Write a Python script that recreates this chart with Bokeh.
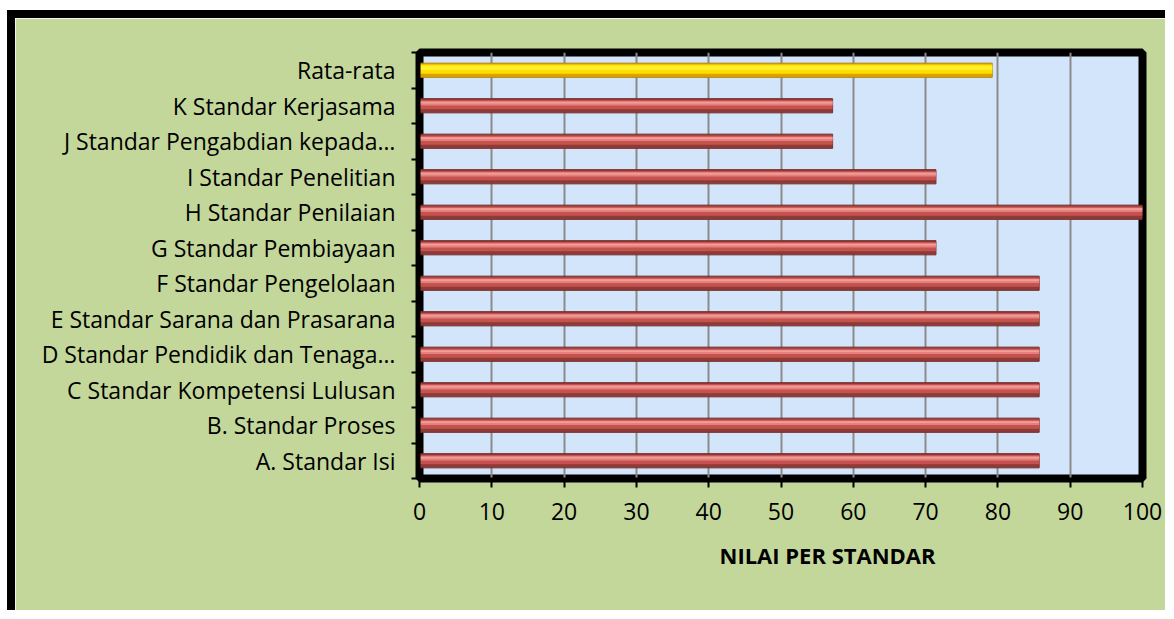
from bokeh.plotting import figure
from bokeh.models import FixedTicker, Title
from bokeh.embed import file_html
from bokeh.resources import INLINE

categories = [
    "A. Standar Isi",
    "B. Standar Proses",
    "C Standar Kompetensi Lulusan",
    "D Standar Pendidik dan Tenaga…",
    "E Standar Sarana dan Prasarana",
    "F Standar Pengelolaan",
    "G Standar Pembiayaan",
    "H Standar Penilaian",
    "I Standar Penelitian",
    "J Standar Pengabdian kepada…",
    "K Standar Kerjasama",
    "Rata-rata",
]
values = [85.71, 85.71, 85.71, 85.71, 85.71, 85.71, 71.43, 100.0, 71.43, 57.14, 57.14, 79.22]
x_ticks = [0, 10, 20, 30, 40, 50, 60, 70, 80, 90, 100]
x_title = "NILAI PER STANDAR"

n = len(categories)
ypos = [i + 0.5 for i in range(n)]
is_avg = [c == "Rata-rata" for c in categories]

FONT = "Open Sans"
GREEN = "#C4D79B"

p = figure(
    width=1158, height=600,
    x_range=(0, 100), y_range=(0, n),
    output_backend="svg", toolbar_location=None,
    min_border_left=404, min_border_right=31, min_border_top=34, min_border_bottom=140,
    styles={"border-left": "8px solid black", "border-top": "8px solid black",
            "margin-left": "7px", "margin-top": "10px"},
)
p.background_fill_color = "#D3E5FB"
p.border_fill_color = GREEN
p.outline_line_color = "black"
p.outline_line_width = 8

# grid
p.xgrid.ticker = FixedTicker(ticks=x_ticks)
p.xgrid.grid_line_color = "#8A8A8A"
p.xgrid.grid_line_width = 2
p.ygrid.grid_line_color = None

# bars (base + bevel layers)
red_y = [y for y, a in zip(ypos, is_avg) if not a]
red_v = [v for v, a in zip(values, is_avg) if not a]
yel_y = [y for y, a in zip(ypos, is_avg) if a]
yel_v = [v for v, a in zip(values, is_avg) if a]

H = 0.40
p.hbar(y=red_y, right=red_v, left=0, height=H, fill_color="#8E3A37", line_color="#7A2E2C", line_width=1)
p.hbar(y=[y + 0.03 for y in red_y], right=red_v, left=0, height=0.26, fill_color="#C4524F", line_color=None)
p.hbar(y=[y + 0.07 for y in red_y], right=red_v, left=0, height=0.12, fill_color="#E5807D", line_color=None)
p.hbar(y=[y + 0.09 for y in red_y], right=red_v, left=0, height=0.05, fill_color="#F19D9A", line_color=None)

p.hbar(y=yel_y, right=yel_v, left=0, height=H, fill_color="#D9A400", line_color="#B8860B", line_width=1)
p.hbar(y=[y + 0.03 for y in yel_y], right=yel_v, left=0, height=0.26, fill_color="#FFDD00", line_color=None)
p.hbar(y=[y + 0.07 for y in yel_y], right=yel_v, left=0, height=0.12, fill_color="#FFF02A", line_color=None)

# x axis
xa = p.xaxis[0]
xa.ticker = FixedTicker(ticks=x_ticks)
xa.axis_line_color = "black"
xa.axis_line_width = 2
xa.major_tick_out = 9
xa.major_tick_in = 0
xa.major_tick_line_color = "black"
xa.major_tick_line_width = 2
xa.minor_tick_line_color = None
xa.major_label_text_font = FONT
xa.major_label_text_font_size = "23px"
xa.major_label_text_color = "black"
xa.major_label_standoff = 15

# y axis
ya = p.yaxis[0]
ya.ticker = FixedTicker(ticks=ypos, minor_ticks=list(range(n + 1)))
ya.major_label_overrides = {y: c for y, c in zip(ypos, categories)}
ya.axis_line_color = "black"
ya.axis_line_width = 2
ya.major_tick_out = 0
ya.major_tick_in = 0
ya.minor_tick_out = 8
ya.minor_tick_in = 0
ya.minor_tick_line_color = "black"
ya.minor_tick_line_width = 2
ya.major_label_text_font = FONT
ya.major_label_text_font_size = "23px"
ya.major_label_text_color = "black"
ya.major_label_standoff = 16

p.add_layout(Title(text=x_title, text_font=FONT, text_font_size="22px", text_font_style="bold",
                   text_color="black", align="left", offset=300, standoff=30), "below")

open("out.html", "w").write(file_html(p, INLINE))
